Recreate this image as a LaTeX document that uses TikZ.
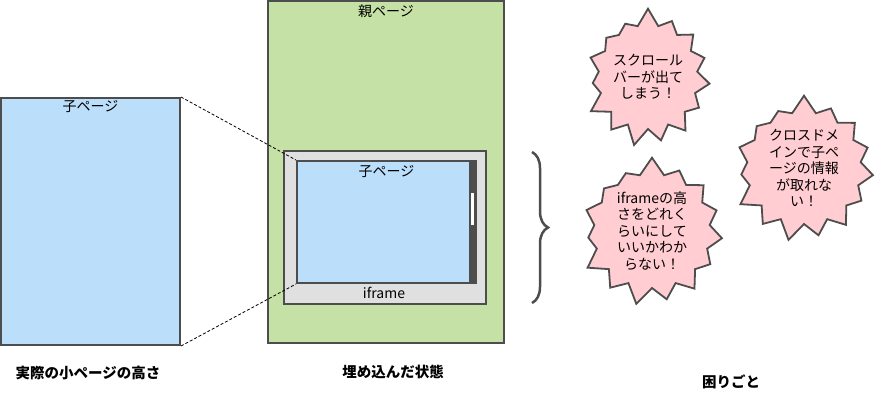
\documentclass[tikz,border=0pt]{standalone}
\usepackage{fontspec}
\setmainfont{Noto Sans CJK JP}
\usetikzlibrary{positioning,shapes.symbols,decorations.pathreplacing}
\definecolor{pageblue}{RGB}{187,222,251}
\definecolor{pagegreen}{RGB}{197,225,165}
\definecolor{framegray}{RGB}{224,224,224}
\definecolor{edgegray}{RGB}{77,77,77}
\definecolor{alertpink}{RGB}{255,205,210}
\tikzset{
  page/.style={draw=edgegray, line width=2pt, inner sep=0pt},
  caption/.style={font=\fontsize{14.5}{17}\selectfont\bfseries, inner sep=0pt},
  zoomline/.style={dash pattern=on 3pt off 2pt, line width=0.8pt},
  burst/.style={starburst, starburst points=15, starburst point height=18pt, random starburst=7,
    draw=edgegray, line width=1.8pt, fill=alertpink, align=center, inner sep=0pt}
}

\begin{document}
\begin{tikzpicture}[x=1pt, y=-1pt, font=\fontsize{14}{16.5}\selectfont]
  \useasboundingbox (0,0) rectangle (881,400);
  % child page at its real height
  \node[page, fill=pageblue, minimum width=179pt, minimum height=247pt] (child) at (90.5,221.5) {};
  \node[below=3pt of child.north, inner sep=0pt] (childname) {子ページ};
  % parent page with the iframe
  \node[page, fill=pagegreen, minimum width=236pt, minimum height=342pt] (parent) at (386,172) {};
  \node[below=5pt of parent.north, inner sep=0pt] (parentname) {親ページ};
  \node[page, fill=framegray, minimum width=202pt, minimum height=153pt] (frame) at (385,227.5) {};
  \node[page, fill=pageblue, minimum width=179pt, minimum height=122pt] (inner) at (386.5,222) {};
  \node[inner sep=0pt, fill=edgegray, minimum width=7pt, minimum height=122pt] (scroll) at (472.5,222) {};
  \node[inner sep=0pt, fill=white, minimum width=3pt, minimum height=32pt] (thumb) at (472.5,209) {};
  \node[below=5pt of inner.north, inner sep=0pt] (innername) {子ページ};
  \node[inner sep=0pt] (framename) at (384,293) {iframe};
  % projection of the child page
  \draw[zoomline] (child.north east) -- (inner.north west);
  \draw[zoomline] (child.south east) -- (inner.south west);
  % brace
  \coordinate (bracetop) at (532,152);
  \coordinate (bracebot) at (532,303);
  \draw[edgegray, line width=2.5pt, decorate, decoration={brace, amplitude=16pt}] (bracetop) -- (bracebot);
  % troubles
  \foreach \n/\x/\y/\w/\h/\t in {scroll/648/77/132/140/{スクロール\\バーが出て\\しまう！},
      domain/804/168/150/148/{クロスドメ\\インで子ペ\\ージの情報\\が取れな\\い！},
      height/652/231/152/150/{iframeの高\\さをどれく\\らいにして\\いいかわか\\らない！}}{
    \node[burst, minimum width=\w pt, minimum height=\h pt] (burst\n) at (\x,\y) {\t};}
  % captions
  \node[caption] (capchild) at (88,373) {実際の小ページの高さ};
  \node[caption] (capparent) at (393,372) {埋め込んだ状態};
  \node[caption] (captrouble) at (731,382) {困りごと};
\end{tikzpicture}
\end{document}
